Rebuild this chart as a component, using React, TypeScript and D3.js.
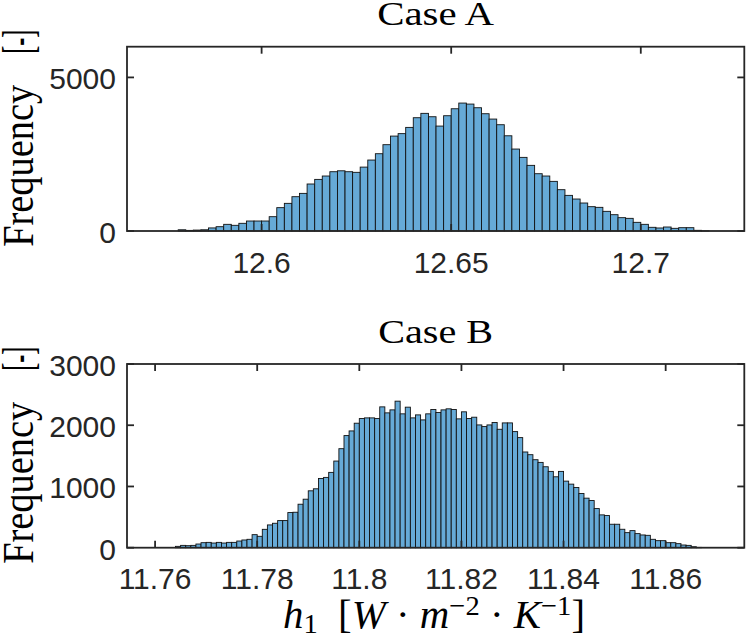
import * as d3 from 'd3'

// Case A: counts per bin, bins of 0.002 starting at 12.578
const binStartA = 12.578
const binWidthA = 0.002
const countsA = [
  40, 20, 30, 40, 100, 140, 217, 185, 250, 325,
  325, 325, 466, 760, 900, 1117, 1225, 1530, 1680, 1790,
  1930, 1960, 1930, 1910, 2080, 2310, 2516, 2810, 3090, 3170,
  3373, 3688, 3830, 3720, 3416, 3753, 3980, 4165, 4132, 4013,
  3818, 3644, 3460, 3100, 2668, 2397, 2137, 1865, 1790, 1616,
  1345, 1160, 1041, 911, 792, 770, 640, 531, 434, 412,
  282, 217, 120, 98, 130, 87, 108, 108, 22, 5,
]
const xDomainA = [12.5645, 12.7273]
const yDomainA = [0, 6000]
const xTicksA = [12.6, 12.65, 12.7]
const xTickLabelsA = ['12.6', '12.65', '12.7']
const yTicksA = [0, 5000]
const yTickLabelsA = ['0', '5000']

// Case B: counts per bin, bins of 0.001 starting at 11.764
const binStartB = 11.764
const binWidthB = 0.001
const countsB = [
  22, 38, 33, 38, 60, 82, 87, 76, 87, 76,
  87, 87, 109, 126, 137, 213, 186, 300, 372, 399,
  443, 443, 574, 579, 710, 792, 929, 962, 1131, 1148,
  1230, 1415,
  1617, 1831, 1907, 2033, 2109, 2120, 2120, 2109, 2300, 2202,
  2251, 2393, 2186, 2295, 2120, 2169, 2087, 2186, 2257, 2208,
  2251, 2268, 2257, 2104, 2219, 2109, 2131, 2005, 1978, 2005,
  2044, 1934, 2038, 2038, 1896, 1798, 1563, 1519, 1437, 1393,
  1322, 1246,
  1158, 1246, 1087, 1038, 984, 885, 809, 770, 639, 536,
  525, 383, 383, 301, 246, 279, 230, 208, 202, 137,
  115, 115, 82, 82, 66, 44, 38, 16, 5,
]
const xDomainB = [11.7545, 11.8754]
const yDomainB = [0, 3000]
const xTicksB = [11.76, 11.78, 11.8, 11.82, 11.84, 11.86]
const xTickLabelsB = ['11.76', '11.78', '11.8', '11.82', '11.84', '11.86']
const yTicksB = [0, 1000, 2000, 3000]
const yTickLabelsB = ['0', '1000', '2000', '3000']

const AXIS = '#262626'
const BAR = '#66aad7'
const TICK = 7

type PanelProps = {
  title: string
  counts: number[]
  binStart: number
  binWidth: number
  xDomain: number[]
  yDomain: number[]
  xTicks: number[]
  xTickLabels: string[]
  yTicks: number[]
  yTickLabels: string[]
  top: number
  bottom: number
  titleLen: number
}

function Panel(p: PanelProps) {
  const left = 127
  const right = 744.3
  const x = d3.scaleLinear().domain(p.xDomain).range([left, right])
  const y = d3.scaleLinear().domain(p.yDomain).range([p.bottom, p.top])
  const cx = (left + right) / 2
  const cy = (p.top + p.bottom) / 2

  return (
    <g>
      {p.counts.map((c, i) => {
        const x0 = p.binStart + i * p.binWidth
        return (
          <rect
            key={i}
            x={x(x0)}
            y={y(c)}
            width={x(x0 + p.binWidth) - x(x0)}
            height={y(0) - y(c)}
            fill={BAR}
            stroke="#111"
            strokeWidth={0.9}
          />
        )
      })}
      <rect x={left} y={p.top} width={right - left} height={p.bottom - p.top}
        fill="none" stroke={AXIS} strokeWidth={1.8} />
      {p.xTicks.map((t, i) => (
        <g key={'xt' + i}>
          <line x1={x(t)} x2={x(t)} y1={p.bottom} y2={p.bottom - TICK} stroke={AXIS} strokeWidth={1.8} />
          <line x1={x(t)} x2={x(t)} y1={p.top} y2={p.top + TICK} stroke={AXIS} strokeWidth={1.8} />
          <text x={x(t)} y={p.bottom + 41.5} textAnchor="middle" fontFamily="Liberation Sans, Arial"
            fontSize={30} fill={AXIS}>{p.xTickLabels[i]}</text>
        </g>
      ))}
      {p.yTicks.map((t, i) => (
        <g key={'yt' + i}>
          <line x1={left} x2={left + TICK} y1={y(t)} y2={y(t)} stroke={AXIS} strokeWidth={1.8} />
          <line x1={right} x2={right - TICK} y1={y(t)} y2={y(t)} stroke={AXIS} strokeWidth={1.8} />
          <text x={116} y={y(t) + 12} textAnchor="end" fontFamily="Liberation Sans, Arial"
            fontSize={30} fill={AXIS}>{p.yTickLabels[i]}</text>
        </g>
      ))}
      <text x={cx} y={p.top - 21.5} textAnchor="middle" fontFamily="Liberation Serif, serif"
        fontSize={33} fill="#000" textLength={p.titleLen} lengthAdjust="spacingAndGlyphs">{p.title}</text>
      <text transform={`translate(33,${cy + 27}) rotate(-90)`} textAnchor="middle"
        fontFamily="Liberation Serif, serif" fontSize={44} fill="#000"
        textLength={162} lengthAdjust="spacingAndGlyphs">Frequency</text>
      <text transform={`translate(33,${cy - 97}) rotate(-90)`} textAnchor="middle"
        fontFamily="Liberation Serif, serif" fontSize={44} fill="#000"
        textLength={24} lengthAdjust="spacingAndGlyphs">[-]</text>
    </g>
  )
}

export default function App() {
  return (
    <svg width={747} height={640} viewBox="0 0 747 640"
      style={{ position: 'absolute', left: 0, top: 0, background: '#fff' }}>
      <rect width={747} height={640} fill="#fff" />
      <Panel title="Case A" counts={countsA} binStart={binStartA} binWidth={binWidthA}
        xDomain={xDomainA} yDomain={yDomainA} xTicks={xTicksA} xTickLabels={xTickLabelsA}
        yTicks={yTicksA} yTickLabels={yTickLabelsA} top={46.7} bottom={231} titleLen={117} />
      <Panel title="Case B" counts={countsB} binStart={binStartB} binWidth={binWidthB}
        xDomain={xDomainB} yDomain={yDomainB} xTicks={xTicksB} xTickLabels={xTickLabelsB}
        yTicks={yTicksB} yTickLabels={yTickLabelsB} top={364} bottom={547.7} titleLen={115} />
      <text x={283} y={628} fontFamily="Liberation Serif, serif" fontSize={40} fill="#000"
        textLength={302} lengthAdjust="spacingAndGlyphs">
        <tspan fontStyle="italic">h</tspan>
        <tspan fontSize={28} dy={5}>1</tspan>
        <tspan dy={-5}>{'\u2002['}</tspan>
        <tspan fontStyle="italic">W</tspan>
        <tspan>{' \u00b7 '}</tspan>
        <tspan fontStyle="italic">m</tspan>
        <tspan fontSize={28} dy={-13}>{'\u22122'}</tspan>
        <tspan dy={13}>{' \u00b7 '}</tspan>
        <tspan fontStyle="italic">K</tspan>
        <tspan fontSize={28} dy={-13}>{'\u22121'}</tspan>
        <tspan dy={13}>]</tspan>
      </text>
    </svg>
  )
}
